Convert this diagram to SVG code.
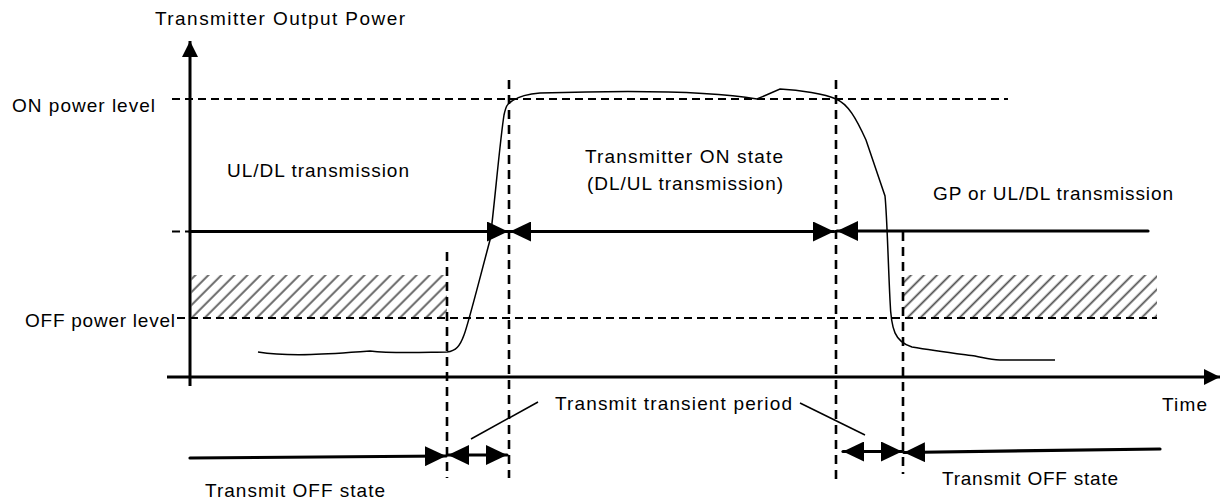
<svg xmlns="http://www.w3.org/2000/svg" width="1224" height="501" viewBox="0 0 1224 501">
<style>
text{font-family:"Liberation Sans",Arial,sans-serif;font-size:19px;fill:#000}
.axis{stroke:#000;stroke-width:3;fill:none}
.lvl{stroke:#000;stroke-width:2;stroke-dasharray:8 5;fill:none}
.vd{stroke:#000;stroke-width:2.6;stroke-dasharray:9 6;fill:none}
.span{stroke:#000;stroke-width:3.2;fill:none;stroke-linecap:round}
.thin{stroke:#000;stroke-width:1.5;fill:none}
.hatch{fill:url(#hp)}
</style>
<defs>
<pattern id="hp" patternUnits="userSpaceOnUse" width="9.2" height="9.2" patternTransform="rotate(45)">
<rect width="9.2" height="9.2" fill="#fff"/>
<line x1="1.5" y1="0" x2="1.5" y2="9.2" stroke="#555" stroke-width="1.8"/>
</pattern>
<marker id="ah" viewBox="0 0 21 20" refX="21" refY="10" markerWidth="21" markerHeight="20" markerUnits="userSpaceOnUse" orient="auto-start-reverse">
<path d="M0,0 L21,10 L0,20 z" fill="#000"/>
</marker>
<marker id="ax" viewBox="0 0 16 16" refX="16" refY="8" markerWidth="16" markerHeight="16" markerUnits="userSpaceOnUse" orient="auto">
<path d="M0,0 L16,8 L0,16 z" fill="#000"/>
</marker>
</defs>
<rect width="1224" height="501" fill="#fff"/>

<g id="hatch-areas">
<rect class="hatch" x="191.5" y="275" width="255.5" height="43"/>
<rect class="hatch" x="903" y="275" width="254" height="43"/>
</g>

<g id="levels">
<line class="lvl" x1="172" y1="99" x2="1008" y2="99"/>
<line class="lvl" x1="177" y1="318" x2="1157" y2="318"/>
<line class="lvl" x1="172" y1="231.5" x2="190" y2="231.5"/>
</g>

<g id="axes">
<line class="axis" x1="190" y1="386" x2="190" y2="41" marker-end="url(#ax)"/>
<line class="axis" x1="167" y1="377" x2="1220" y2="377" marker-end="url(#ax)"/>
</g>

<g id="markers-vertical">
<line class="vd" x1="447" y1="252" x2="447" y2="478"/>
<line class="vd" x1="509" y1="80" x2="509" y2="478"/>
<line class="vd" x1="836" y1="80" x2="836" y2="480"/>
<line class="vd" x1="903" y1="232" x2="903" y2="474"/>
</g>

<g id="power-curve">
<path class="thin" d="M258,352 C290,357 330,354 370,351 C395,354 430,352 447,352 C456,351 460,346 464,335 C468,325 478,285 490,240 C494,210 500,140 504,115 C506,106 507,104 512,101 C518,97 525,94 540,93 C600,91 700,89 757,99 L780,89 C800,90 825,94 836,99 C848,104 856,118 866,140 L885,196 C887,215 888,260 890,300 C891,330 895,342 912,347 C935,351 960,354 975,356 C985,358 990,360 1000,360 L1055,360"/>
</g>

<g id="connectors">
<line class="span" x1="190" y1="231.5" x2="508" y2="231.5" marker-end="url(#ah)"/>
<line class="span" x1="510" y1="231.5" x2="834" y2="231.5" marker-start="url(#ah)" marker-end="url(#ah)"/>
<line class="span" x1="837" y1="231" x2="1148" y2="231" marker-start="url(#ah)"/>
<line class="span" x1="190" y1="458" x2="446" y2="456" marker-end="url(#ah)"/>
<line class="span" x1="448" y1="455" x2="507" y2="455" marker-start="url(#ah)" marker-end="url(#ah)"/>
<line class="span" x1="843" y1="451.5" x2="902" y2="451.5" marker-start="url(#ah)" marker-end="url(#ah)"/>
<line class="span" x1="904" y1="452.5" x2="1160" y2="449" marker-start="url(#ah)"/>
<line class="thin" x1="471" y1="439" x2="538" y2="402"/>
<line class="thin" x1="800" y1="403" x2="865" y2="435"/>
</g>

<g id="label-y-axis"><text x="155" y="25" textLength="250" lengthAdjust="spacing">Transmitter Output Power</text></g>
<g id="label-on-level"><text x="12" y="112" textLength="143" lengthAdjust="spacing">ON power level</text></g>
<g id="label-off-level"><text x="25" y="327" textLength="150" lengthAdjust="spacing">OFF power level</text></g>
<g id="label-uldl"><text x="227" y="177" textLength="182" lengthAdjust="spacing">UL/DL transmission</text></g>
<g id="label-on-state">
<text x="585" y="163" textLength="198" lengthAdjust="spacing">Transmitter ON state</text>
<text x="587" y="190" textLength="196" lengthAdjust="spacing">(DL/UL transmission)</text>
</g>
<g id="label-gp"><text x="933" y="200" textLength="240" lengthAdjust="spacing">GP or UL/DL transmission</text></g>
<g id="label-time"><text x="1162" y="411" textLength="45" lengthAdjust="spacing">Time</text></g>
<g id="label-transient"><text x="555" y="410" textLength="237" lengthAdjust="spacing">Transmit transient period</text></g>
<g id="label-off-left"><text x="205" y="497" textLength="180" lengthAdjust="spacing">Transmit OFF state</text></g>
<g id="label-off-right"><text x="942" y="485" textLength="176" lengthAdjust="spacing">Transmit OFF state</text></g>
</svg>
